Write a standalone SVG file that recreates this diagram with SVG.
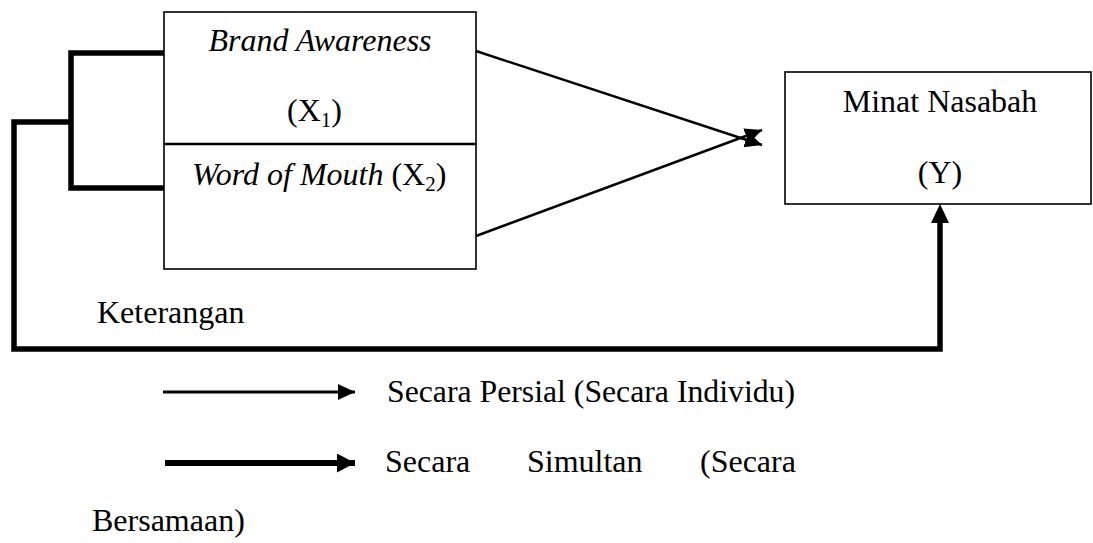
<svg xmlns="http://www.w3.org/2000/svg" width="1093" height="543" viewBox="0 0 1093 543">
<style>
text{font-family:"Liberation Serif","Times New Roman",serif;font-size:32px;fill:#000}
.it{font-style:italic}
.box{fill:#fff;stroke:#000;stroke-width:1.6}
.thin{fill:none;stroke:#000;stroke-width:2.4}
.thick{fill:none;stroke:#000;stroke-width:5.5}
</style>
<defs>
<marker id="ah" markerUnits="userSpaceOnUse" markerWidth="20" markerHeight="18" refX="17" refY="8" orient="auto">
<path d="M0,0 L17,8 L0,16 Z" fill="#000"/>
</marker>
<marker id="ahb" markerUnits="userSpaceOnUse" markerWidth="20" markerHeight="20" refX="18" refY="9.5" orient="auto">
<path d="M0,0 L18,9.5 L0,19 Z" fill="#000"/>
</marker>
</defs>
<rect width="1093" height="543" fill="#fff"/>
<g id="connectors">
<path class="thick" d="M164,53 H71 V188 H164 M71,122 H14 V349 H940 V222"/>
<path d="M940,204 L931,223 L949,223 Z" fill="#000"/>
<line class="thin" x1="476" y1="51" x2="762" y2="145" marker-end="url(#ah)"/>
<line class="thin" x1="476" y1="236" x2="762" y2="130" marker-end="url(#ah)"/>
</g>
<g id="x1">
<rect class="box" x="164" y="12" width="312" height="132"/>
<text class="it" x="320" y="51" text-anchor="middle">Brand Awareness</text>
<text x="287" y="121">(X<tspan font-size="21" dy="6">1</tspan><tspan dy="-6">)</tspan></text>
</g>
<g id="x2">
<rect class="box" x="164" y="144" width="312" height="125"/>
<line x1="164" y1="144" x2="476" y2="144" stroke="#000" stroke-width="2.6"/>
<text x="192" y="185"><tspan class="it">Word of Mouth</tspan> (X<tspan font-size="21" dy="6">2</tspan><tspan dy="-6">)</tspan></text>
</g>
<g id="y">
<rect class="box" x="785" y="72" width="306" height="132"/>
<text x="940" y="112" text-anchor="middle">Minat Nasabah</text>
<text x="940" y="183" text-anchor="middle">(Y)</text>
</g>
<g id="legend">
<text x="97" y="323">Keterangan</text>
<line x1="163" y1="392" x2="355" y2="392" stroke="#000" stroke-width="3" marker-end="url(#ah)"/>
<text x="387" y="402" textLength="408" lengthAdjust="spacingAndGlyphs">Secara Persial (Secara Individu)</text>
<line x1="165" y1="463" x2="355" y2="463" stroke="#000" stroke-width="6" marker-end="url(#ahb)"/>
<text y="472"><tspan x="385">Secara</tspan><tspan x="527">Simultan</tspan><tspan x="700">(Secara</tspan></text>
<text x="92" y="531">Bersamaan)</text>
</g>
</svg>
